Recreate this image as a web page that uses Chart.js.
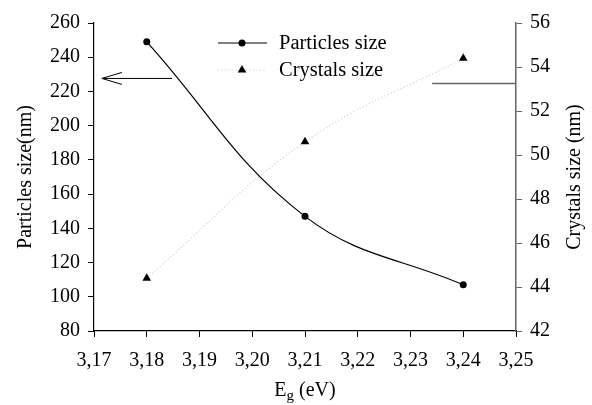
<!DOCTYPE html>
<html>
<head>
<meta charset="utf-8">
<script src="https://cdn.jsdelivr.net/npm/chart.js@4/dist/chart.umd.min.js"></script>
<style>
    body { margin: 0; background: #fff; }
    #wrap { width: 592px; height: 405px; }
</style>
</head>
<body>
<div id="wrap"><canvas id="chart" width="592" height="405"></canvas></div>
<script>
// --- Data ---
const energies = [3.18, 3.21, 3.24];          // Eg (eV)
const particleSizes = [249, 147, 107];        // nm, left axis
const crystalSizes = [44.4, 50.6, 54.4];      // nm, right axis
const xTicks = [3.17, 3.18, 3.19, 3.20, 3.21, 3.22, 3.23, 3.24, 3.25];
const leftTicks = [80, 100, 120, 140, 160, 180, 200, 220, 240, 260];
const rightTicks = [42, 44, 46, 48, 50, 52, 54, 56];
// arrow pointing to the left axis, and the marker line to the right axis (data coords)
const leftArrowX = [3.1848, 3.1715];
const leftArrowY = 227.6;
const rightMarkX = [3.2341, 3.25];
const rightMarkY = 53.25;

const FONT = "'Liberation Serif', 'Times New Roman', serif";
const tickFont = { family: FONT, size: 20 };

const setTicks = list => scale => { scale.ticks = list.map(v => ({ value: v })); };

// Extra drawing: axis titles, arrow, marker line, legend
const decor = {
    id: 'decor',
    afterDraw(chart) {
        const ctx = chart.ctx;
        const a = chart.chartArea;
        const x = chart.scales.x, yl = chart.scales.y, yr = chart.scales.y1;
        ctx.save();

        // arrow to left axis
        const ay = yl.getPixelForValue(leftArrowY);
        const ax0 = x.getPixelForValue(leftArrowX[0]);
        const ax1 = x.getPixelForValue(leftArrowX[1]);
        ctx.strokeStyle = '#000';
        ctx.lineWidth = 1;
        ctx.beginPath();
        ctx.moveTo(ax0, ay); ctx.lineTo(ax1, ay);
        ctx.moveTo(ax1 + 20, ay - 6); ctx.lineTo(ax1, ay); ctx.lineTo(ax1 + 20, ay + 6);
        ctx.stroke();

        // marker line to right axis
        const ry = yr.getPixelForValue(rightMarkY);
        ctx.strokeStyle = '#666';
        ctx.lineWidth = 1.5;
        ctx.beginPath();
        ctx.moveTo(x.getPixelForValue(rightMarkX[0]), ry);
        ctx.lineTo(x.getPixelForValue(rightMarkX[1]), ry);
        ctx.stroke();

        // legend
        ctx.font = `20.5px ${FONT}`;
        ctx.textBaseline = 'middle';
        ctx.fillStyle = '#000';
        chart.data.datasets.forEach((ds, i) => {
            const ly = 43 + i * 27;
            ctx.save();
            ctx.strokeStyle = ds.borderColor;
            ctx.lineWidth = ds.borderWidth;
            ctx.setLineDash(ds.borderDash || []);
            ctx.beginPath();
            ctx.moveTo(218, ly); ctx.lineTo(267, ly);
            ctx.stroke();
            ctx.restore();
            Chart.helpers.drawPoint(ctx, {
                pointStyle: ds.pointStyle, radius: ds.pointRadius, rotation: 0, borderWidth: 0
            }, 242, ly);
            ctx.fillText(ds.label, 279, ly + 1);
        });

        // axis titles
        ctx.font = `20px ${FONT}`;
        const cy = (a.top + a.bottom) / 2;
        ctx.textAlign = 'center';
        ctx.save();
        ctx.translate(26, cy); ctx.rotate(-Math.PI / 2);
        ctx.fillText('Particles size(nm)', 0, 0);
        ctx.restore();
        ctx.save();
        ctx.translate(575, cy); ctx.rotate(-Math.PI / 2);
        ctx.fillText('Crystals size (nm)', 0, 0);
        ctx.restore();

        // Eg (eV) with subscript
        ctx.textAlign = 'left';
        ctx.textBaseline = 'alphabetic';
        const big = `20px ${FONT}`, small = `15px ${FONT}`;
        ctx.font = big; const wE = ctx.measureText('E').width;
        ctx.font = small; const wG = ctx.measureText('g').width;
        ctx.font = big; const wR = ctx.measureText(' (eV)').width;
        let tx = (a.left + a.right) / 2 - (wE + wG + wR) / 2;
        const base = 396;
        ctx.font = big; ctx.fillText('E', tx, base); tx += wE;
        ctx.font = small; ctx.fillText('g', tx, base + 4); tx += wG;
        ctx.font = big; ctx.fillText(' (eV)', tx, base);

        ctx.restore();
    }
};

new Chart(document.getElementById('chart'), {
    type: 'line',
    data: {
        datasets: [{
            label: 'Particles size',
            data: energies.map((e, i) => ({ x: e, y: particleSizes[i] })),
            yAxisID: 'y',
            borderColor: '#000',
            borderWidth: 1.2,
            backgroundColor: '#000',
            pointStyle: 'circle',
            pointRadius: 3.5,
            pointBackgroundColor: '#000',
            pointBorderWidth: 0,
            tension: 0.4
        }, {
            label: 'Crystals size',
            data: energies.map((e, i) => ({ x: e, y: crystalSizes[i] })),
            yAxisID: 'y1',
            borderColor: '#c8c8c8',
            borderWidth: 1.2,
            borderDash: [1, 2.5],
            backgroundColor: '#000',
            pointStyle: 'triangle',
            pointRadius: 5,
            pointBackgroundColor: '#000',
            pointBorderWidth: 0,
            tension: 0.4
        }]
    },
    options: {
        responsive: false,
        animation: false,
        events: [],
        layout: { padding: { left: 0, right: 0, top: 23, bottom: 0 } },
        plugins: { legend: { display: false }, tooltip: { enabled: false } },
        scales: {
            x: {
                type: 'linear',
                min: 3.17, max: 3.25,
                afterBuildTicks: setTicks(xTicks),
                afterFit: s => { s.height = 74; },
                grid: { drawOnChartArea: false, color: '#000', tickLength: 6 },
                border: { color: '#000', width: 1.2 },
                ticks: {
                    font: tickFont, color: '#000', padding: 12, maxRotation: 0,
                    callback: v => v.toFixed(2).replace('.', ',')
                }
            },
            y: {
                position: 'left',
                min: 80, max: 260,
                afterBuildTicks: setTicks(leftTicks),
                afterFit: s => { s.width = 94; },
                grid: { drawOnChartArea: false, color: '#000', tickLength: 6 },
                border: { color: '#000', width: 1.2 },
                ticks: { font: tickFont, color: '#000', padding: 8 }
            },
            y1: {
                position: 'right',
                min: 42, max: 56,
                afterBuildTicks: setTicks(rightTicks),
                afterFit: s => { s.width = 76; },
                grid: { drawOnChartArea: false, color: '#666', tickLength: 6 },
                border: { color: '#666', width: 1.5 },
                ticks: { font: tickFont, color: '#000', padding: 8 }
            }
        }
    },
    plugins: [decor]
});
</script>
</body>
</html>
